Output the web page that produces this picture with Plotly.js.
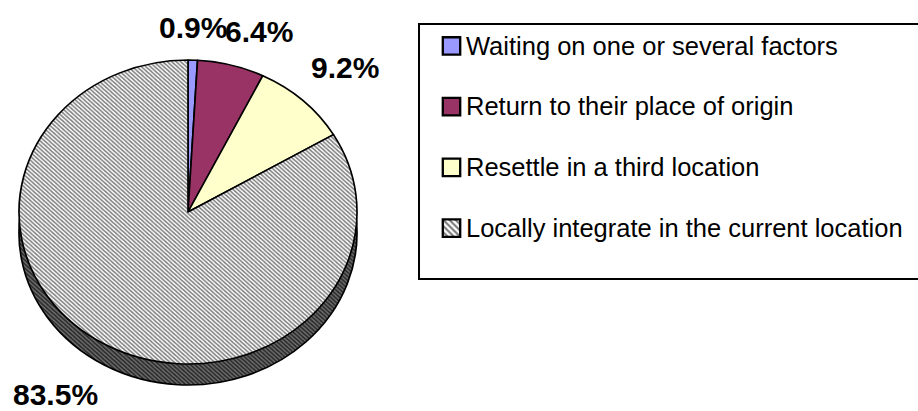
<!DOCTYPE html>
<html>
<head>
<meta charset="utf-8">
<script src="https://cdn.plot.ly/plotly-3.0.1.min.js"></script>
<style>
  html, body { margin: 0; padding: 0; background: #ffffff; }
  #chart { width: 918px; height: 411px; }
</style>
</head>
<body>
<div id="chart"></div>
<script>
// ---- data ----
const categories = [
  'Waiting on one or several factors',
  'Return to their place of origin',
  'Resettle in a third location',
  'Locally integrate in the current location'
];
const shares = [0.9, 6.4, 9.2, 83.5];

// ---- styles ----
const faceColors = ['#9999FF', '#993366', '#FFFFCC', '#FFFFFF'];
const sideColors = ['#4D4D80', '#4D1A33', '#808066', '#6E6E6E'];
const patternShapes = ['', '', '', '\\'];
const faceFg = ['#000', '#000', '#000', '#7C7C7C'];
const sideFg = ['#000', '#000', '#000', '#262626'];
const FONT = 'Liberation Sans, Arial, Helvetica, sans-serif';

// ---- geometry of the tilted pie (px) ----
const W = 918, H = 411;
const cx = 188, cy = 212;      // centre of the top face
const rx = 169, ry = 152;      // ellipse radii of the top face
const depth = 21;              // visible thickness
const R = 160;                 // radius Plotly draws before tilting
const sx = rx / R, sy = ry / R;
const dx = [(cx - R) / W, (cx + R) / W];
const topDomainY = [(H - cy - R) / H, (H - cy + R) / H];
const sideCy = cy + depth / sy;
const sideDomainY = [(H - sideCy - R) / H, (H - sideCy + R) / H];

const legendLabels = categories.map(c =>
  "<span style='font-size:25.5px'>" + c + "</span><br>&nbsp;");

const common = {
  type: 'pie',
  values: shares,
  labels: legendLabels,
  sort: false,
  direction: 'clockwise',
  rotation: 0,
  textinfo: 'none',
  hoverinfo: 'none'
};

const side = Object.assign({}, common, {
  domain: { x: dx, y: sideDomainY },
  showlegend: false,
  marker: {
    colors: sideColors,
    line: { color: '#000000', width: 1.6 },
    pattern: { shape: patternShapes, size: 3, solidity: 0.5, fgcolor: sideFg, bgcolor: sideColors }
  }
});

const face = Object.assign({}, common, {
  domain: { x: dx, y: topDomainY },
  showlegend: true,
  marker: {
    colors: faceColors,
    line: { color: '#000000', width: 1.6 },
    pattern: { shape: patternShapes, size: 3, solidity: 0.5, fgcolor: faceFg, bgcolor: faceColors }
  }
});

// percentage labels placed just outside each slice's middle on the rim
const total = shares.reduce((a, b) => a + b, 0);
const gap = 10;
let acc = 0;
const labelAnnotations = shares.map(v => {
  const th = (acc + v / 2) / total * 2 * Math.PI;
  acc += v;
  const s = Math.sin(th), c = Math.cos(th);
  const lower = c < 0;
  const centred = Math.abs(s) < 0.1;
  const px = cx + rx * s + gap * s;
  const py = cy - ry * c + (lower ? depth : 0) - gap * c;
  return {
    xref: 'paper', yref: 'paper',
    x: px / W, y: 1 - py / H,
    text: v.toFixed(1) + '%',
    showarrow: false,
    xanchor: centred ? 'center' : (s > 0 ? 'left' : 'right'),
    yanchor: lower ? 'top' : 'bottom',
    xshift: centred ? 0 : -Math.sign(s) * Math.max(0, 0.35 - Math.abs(s)) * 100,
    yshift: lower ? -3 : 5 + 4 * Math.abs(s),
    borderpad: 0,
    font: { family: FONT, size: 30, color: '#000000', weight: 'bold' }
  };
});

const layout = {
  width: W,
  height: H,
  margin: { l: 0, r: 0, t: 0, b: 0, pad: 0, autoexpand: false },
  paper_bgcolor: '#ffffff',
  plot_bgcolor: '#ffffff',
  font: { family: FONT, color: '#000000' },
  showlegend: true,
  annotations: labelAnnotations,
  legend: {
    x: 418 / W,
    y: 1 - 23 / H,
    xanchor: 'left',
    yanchor: 'top',
    bgcolor: '#ffffff',
    bordercolor: '#000000',
    borderwidth: 2,
    valign: 'top',
    indentation: 6,
    font: { family: FONT, size: 22.2, color: '#000000' },
    traceorder: 'normal'
  }
};

Plotly.newPlot('chart', [side, face], layout, { displayModeBar: false, staticPlot: true })
  .then(gd => {
    // tilt the pie into an ellipse like the reference's 3-D pie
    const pl = gd.querySelector('.pielayer');
    if (pl) pl.setAttribute('transform',
      'translate(' + cx + ',' + cy + ') scale(' + sx + ',' + sy + ') translate(' + (-cx) + ',' + (-cy) + ')');
    // larger legend swatches, as in the reference
    gd.querySelectorAll('.legend .legendpoints path').forEach(p => {
      const t = p.getAttribute('transform') || '';
      p.setAttribute('transform', t + ' translate(5.5,0) scale(1.45)');
    });
    // the reference legend frame runs past the right edge of the picture
    gd.querySelectorAll('.legend rect.bg').forEach(bg => bg.setAttribute('width', '700'));
  });
</script>
</body>
</html>
